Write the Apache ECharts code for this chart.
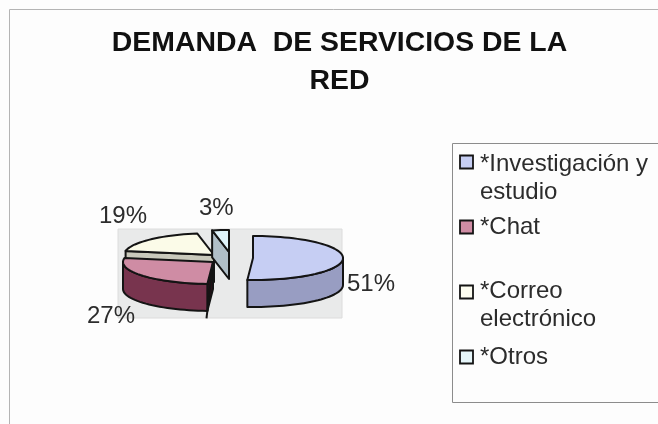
<!DOCTYPE html>
<html>
<head>
<meta charset="utf-8">
<style>html,body{margin:0;padding:0;background:#fdfdfd}#chart{width:658px;height:424px}</style>
<script src="https://cdn.jsdelivr.net/npm/echarts@6/dist/echarts.min.js"></script>
</head>
<body>
<div id="chart"></div>
<script>
// Service demand shares
const categories = ['*Investigación y\nestudio', '*Chat', '*Correo\nelectrónico', '*Otros'];
const shares = [51, 27, 19, 3];

// Fill colours per slice
const topColors = ['#c6cef3', '#cf8ca4', '#fbfbe8', '#e0f4fb'];
const sideColors = ['#989dc2', '#78344e', '#c9c9bb', '#b0bfc8'];
const wallColors = ['#989dc2', '#2a0f1a', '#c9c9bb', '#b0bfc8'];
const keyColors = ['#c6cef3', '#cf8ca4', '#fcfcf0', '#e6f6fa'];

// Exploded pie layout
const RX = 90, RY = 22, DEPTH = 27;
const sliceCentres = [[253, 258], [213, 262], [214, 255], [229, 252]];
const labelPositions = [[347, 284], [87, 316], [99, 216], [199, 208]];
const paintOrder = [4, 3, 1, 2];
const wallOvershoot = [0, 0.15, 0, 0];
const OUTLINE = '#141414';
const TEXT_FONT = '24px "Liberation Sans"';

const total = shares.reduce((a, b) => a + b, 0);

function rimPoint(c, deg) {
  const r = deg * Math.PI / 180;
  return [c[0] + RX * Math.sin(r), c[1] - RY * Math.cos(r)];
}
function arcPoints(c, from, to) {
  const pts = [];
  const n = Math.max(2, Math.ceil(Math.abs(to - from) / 3));
  for (let i = 0; i <= n; i++) pts.push(rimPoint(c, from + (to - from) * i / n));
  return pts;
}
const drop = (p) => [p[0], p[1] + DEPTH];
// A straight cut wall is seen only when its outward normal points down the screen
const faces = (normalDeg) => Math.cos(normalDeg * Math.PI / 180) < -1e-6;

function renderSlice(params, api) {
  const i = params.dataIndex;
  const value = api.value(0);
  const before = shares.slice(0, i).reduce((a, b) => a + b, 0);
  const a0 = before / total * 360;
  const a1 = a0 + value / total * 360;
  const c = sliceCentres[i];
  const z = paintOrder[i] * 10;
  const line = { stroke: OUTLINE, lineWidth: 2, lineJoin: 'round' };
  const children = [];
  const poly = (points, fill, zz) => ({
    type: 'polygon', z2: z + zz, shape: { points },
    style: Object.assign({ fill }, line)
  });

  // cut walls running from the centre to the rim
  [[a0, a0 - 90], [a1, a1 + 90]].forEach(([a, normal]) => {
    if (!faces(normal)) return;
    const p = rimPoint(c, a);
    children.push(poly([c, p, drop(p), drop(c)], wallColors[i], 1));
    if (wallOvershoot[i] > 0) {
      // the dark seam of the wall runs on a little past the base of the slice
      const d = drop(p), k = 1 + wallOvershoot[i];
      children.push({
        type: 'polyline', z2: z + 4,
        shape: { points: [c, [c[0] + (d[0] - c[0]) * k, c[1] + (d[1] - c[1]) * k]] },
        style: { stroke: OUTLINE, lineWidth: 2, fill: 'none' }
      });
    }
  });
  // outer wall: only the part of the rim that faces the viewer
  const fromA = Math.max(a0, 90), toA = Math.min(a1, 270);
  if (toA > fromA) {
    const arc = arcPoints(c, fromA, toA);
    children.push(poly(arc.concat(arc.slice().reverse().map(drop)), sideColors[i], 2));
  }
  // top face
  children.push(poly([c].concat(arcPoints(c, a0, a1)), topColors[i], 3));
  // value label
  children.push({
    type: 'text', z2: 100,
    style: {
      x: labelPositions[i][0], y: labelPositions[i][1],
      text: value + '%', fill: '#2c2c2c',
      font: TEXT_FONT, textAlign: 'left', textVerticalAlign: 'middle'
    }
  });
  return { type: 'group', children };
}

// Key panel built from the category list
const keySwatchRows = [162, 227, 292, 357];
const keyTextRows = [164, 227, 291, 357];
const keyGraphics = [
  { type: 'line', shape: { x1: 9.5, y1: 9.5, x2: 658, y2: 9.5 }, style: { stroke: '#b4b4b4', lineWidth: 1 } },
  { type: 'line', shape: { x1: 9.5, y1: 9.5, x2: 9.5, y2: 424 }, style: { stroke: '#b4b4b4', lineWidth: 1 } },
  { type: 'rect', shape: { x: 118, y: 229, width: 224, height: 89 }, style: { fill: '#e9eaea', stroke: '#dcdcdc' } },
  { type: 'rect', shape: { x: 452.5, y: 143.5, width: 260, height: 259 }, style: { fill: '#fdfdfd', stroke: '#8c8c8c', lineWidth: 1 } }
];
categories.forEach((name, i) => {
  keyGraphics.push({
    type: 'rect', shape: { x: 460, y: keySwatchRows[i] - 6.5, width: 13, height: 13 },
    style: { fill: keyColors[i], stroke: OUTLINE, lineWidth: 1.8 }
  });
  keyGraphics.push({
    type: 'text',
    style: {
      x: 480, y: keyTextRows[i] - 14, text: name, fill: '#2c2c2c',
      font: TEXT_FONT, lineHeight: 28, textAlign: 'left', textVerticalAlign: 'top'
    }
  });
});

const chart = echarts.init(document.getElementById('chart'), null, { renderer: 'canvas' });
chart.setOption({
  animation: false,
  backgroundColor: '#fdfdfd',
  title: {
    text: 'DEMANDA  DE SERVICIOS DE LA\nRED',
    left: 334.5, top: 19, textAlign: 'center',
    textStyle: { fontFamily: 'Liberation Sans', fontSize: 28.4, fontWeight: 'bold', color: '#111', lineHeight: 38 }
  },
  graphic: { elements: keyGraphics.map((g) => Object.assign({ silent: true, z: -1 }, g)) },
  series: [{
    type: 'custom',
    coordinateSystem: 'none',
    renderItem: renderSlice,
    data: shares.map((v, i) => ({ value: [v], name: categories[i] }))
  }]
});
</script>
</body>
</html>
